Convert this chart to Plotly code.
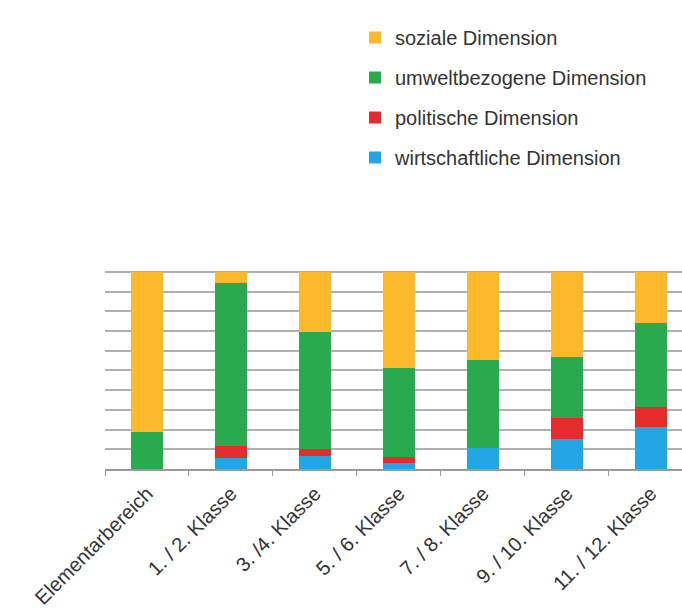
import plotly.graph_objects as go

categories = ["Elementarbereich", "1. / 2. Klasse", "3. /4. Klasse", "5. / 6. Klasse",
              "7. / 8. Klasse", "9. / 10. Klasse", "11. / 12. Klasse"]

wirtschaftlich = [0.0, 5.5, 6.8, 2.9, 10.6, 15.0, 21.3]
politisch = [0.0, 6.1, 3.3, 3.1, 0.0, 11.1, 10.0]
umwelt = [18.7, 82.9, 59.2, 45.4, 44.8, 30.6, 42.8]
sozial = [81.3, 5.5, 30.7, 48.6, 44.6, 43.3, 25.9]

series = [
    ("wirtschaftliche Dimension", wirtschaftlich, "#22a7e2", 4),
    ("politische Dimension", politisch, "#e52b2b", 3),
    ("umweltbezogene Dimension", umwelt, "#2aaa4e", 2),
    ("soziale Dimension", sozial, "#fbb92b", 1),
]

fig = go.Figure()
for name, vals, col, rank in series:
    fig.add_trace(go.Bar(
        x=categories, y=vals, name=name, legendgroup=name, legendrank=rank,
        marker=dict(color=col, line=dict(width=0)),
    ))

W, H = 682, 611
L, R, T, B = 105, 0, 268, 142
pw, ph = W - L - R, H - T - B
fig.update_layout(
    width=W, height=H,
    barmode="stack", bargap=0.62,
    paper_bgcolor="white", plot_bgcolor="white",
    margin=dict(l=L, r=R, t=T, b=B, pad=0, autoexpand=False),
    font=dict(family="Liberation Sans, Arial, sans-serif", size=20, color="#333333"),
    legend=dict(
        traceorder="grouped", tracegroupgap=11,
        x=(355 - L) / pw, y=1 + (T - 18) / ph, xanchor="left", yanchor="top",
        font=dict(size=20, color="#333333"),
        bgcolor="rgba(0,0,0,0)",
    ),
    xaxis=dict(
        type="category", range=[-0.5, 6.37],
        tickangle=-45, tickson="boundaries", ticks="outside", ticklen=5,
        tickcolor="#9a9a9a", showline=True, linecolor="#9a9a9a", linewidth=2,
        showgrid=False, ticklabelstandoff=3,
    ),
    yaxis=dict(
        range=[0, 102], tickvals=[0, 10, 20, 30, 40, 50, 60, 70, 80, 90, 100],
        showticklabels=False, ticks="",
        showgrid=True, gridcolor="#b0b0b0", gridwidth=2, zeroline=False,
        showline=False,
    ),
)

fig.write_html("out.html")
